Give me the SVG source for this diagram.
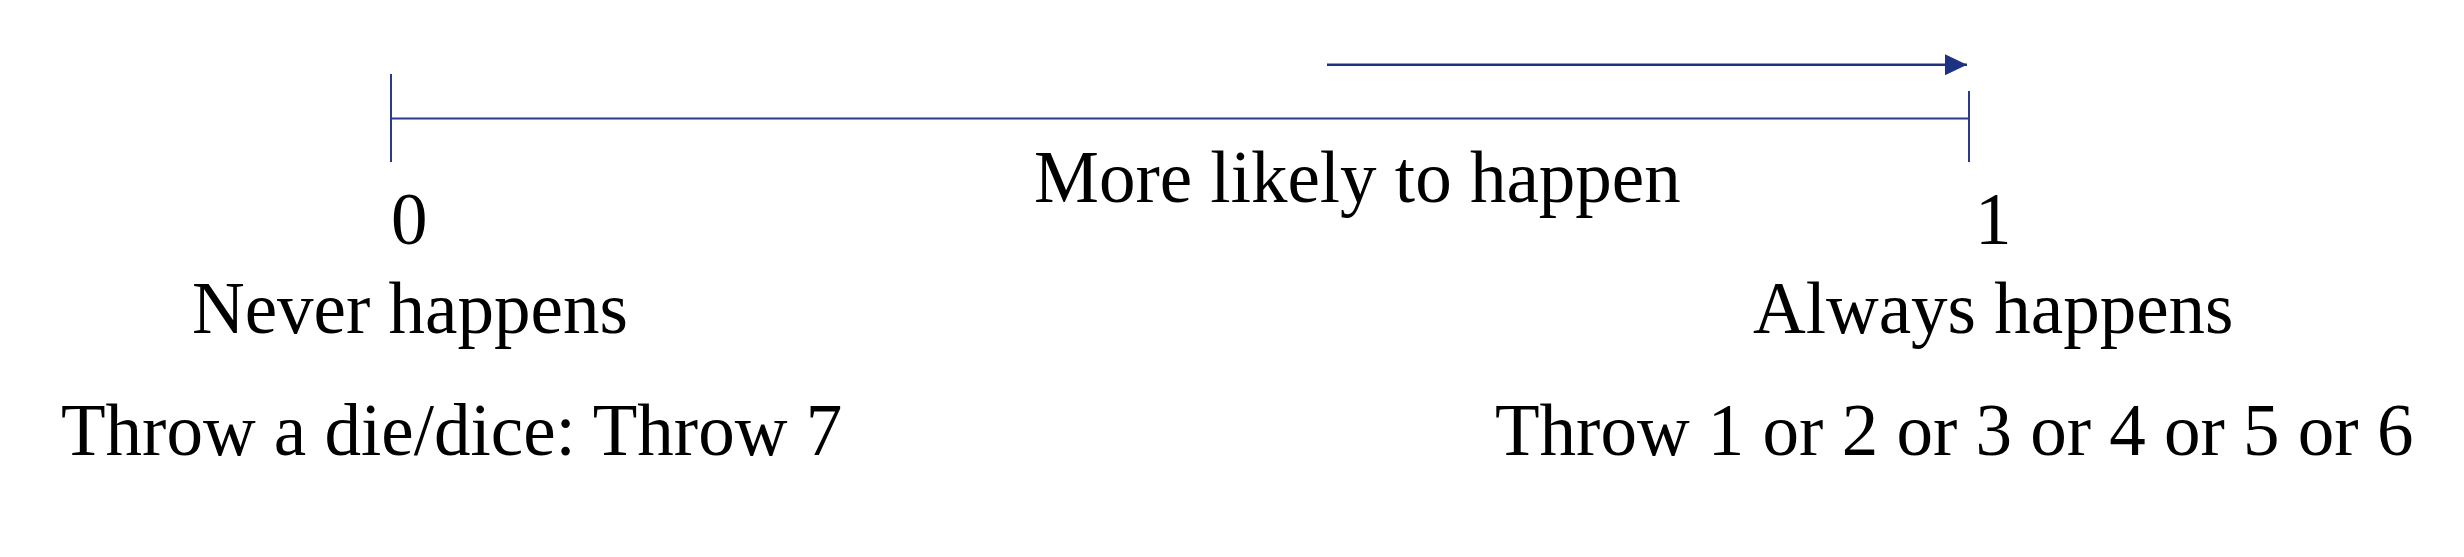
<svg xmlns="http://www.w3.org/2000/svg" width="2464" height="557" viewBox="0 0 2464 557">
<style>
.t{font-family:"Liberation Serif","Times New Roman",serif;font-size:73px;fill:#000}
.ax{stroke:#2B3A8C;stroke-width:2;fill:none}
.ar{stroke:#1E3283;stroke-width:2.5;fill:none}
</style>
<defs>
<marker id="ah" markerUnits="userSpaceOnUse" markerWidth="24" markerHeight="24" viewBox="0 0 24 24" refX="22" refY="12" orient="auto">
<path d="M0,1.5 L22,12 L0,22.5 Z" fill="#1E3283"/>
</marker>
</defs>
<rect width="2464" height="557" fill="#fff"/>
<g id="connectors">
<line class="ax" x1="391" y1="118.5" x2="1969" y2="118.5"/>
<line class="ax" x1="391" y1="74" x2="391" y2="162"/>
<line class="ax" x1="1969" y1="91" x2="1969" y2="162"/>
<line class="ar" x1="1327" y1="64.7" x2="1967" y2="64.7" marker-end="url(#ah)"/>
</g>
<g id="label-more"><text class="t" x="1034" y="201.5">More likely to happen</text></g>
<g id="label-0"><text class="t" x="391" y="244">0</text></g>
<g id="label-1"><text class="t" x="1975" y="244">1</text></g>
<g id="label-never"><text class="t" x="192" y="332.5">Never happens</text></g>
<g id="label-always"><text class="t" x="1753" y="332.5">Always happens</text></g>
<g id="example-never"><text class="t" x="61" y="455">Throw a die/dice: Throw 7</text></g>
<g id="example-always"><text class="t" x="1495" y="455">Throw 1 or 2 or 3 or 4 or 5 or 6</text></g>
</svg>
